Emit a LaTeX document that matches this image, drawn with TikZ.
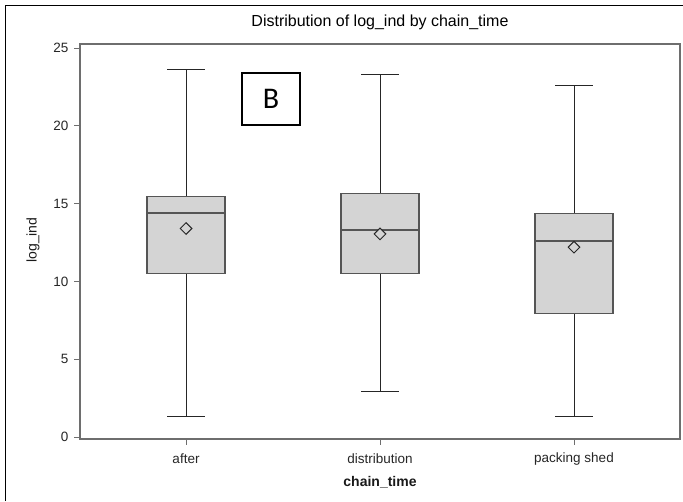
\documentclass[tikz,border=0pt]{standalone}
\usepackage{fontspec}
\setmainfont{Liberation Sans}
\newfontfamily\calib{Carlito}
\usetikzlibrary{shapes.geometric}
\definecolor{boxgray}{RGB}{212,212,212}
\definecolor{boxedge}{RGB}{85,85,85}
\definecolor{framegray}{RGB}{110,110,110}
\newcommand\bxp[8]{%
  \begin{scope}[shift={(0,437)}, y=15.56pt]
    \coordinate (#1lo) at (#2,#3);
    \coordinate (#1hi) at (#2,#7);
    \coordinate (#1bot) at (#2,#4);
    \coordinate (#1top) at (#2,#6);
    \draw[whisk] (#1lo) -- (#1bot);
    \draw[whisk] (#1top) -- (#1hi);
    \draw[whisk] ([xshift=-19pt]#1lo) -- ([xshift=19pt]#1lo);
    \draw[whisk] ([xshift=-19pt]#1hi) -- ([xshift=19pt]#1hi);
    \draw[boxfill] ([xshift=-39pt]#1bot) rectangle ([xshift=39pt]#1top);
    \draw[boxedge, line width=1.2pt] (#2-39,#5) -- (#2+39,#5);
    \node[meanmark] (#1mean) at (#2,#8) {};
  \end{scope}}
\begin{document}
\begin{tikzpicture}[x=1pt,y=-1pt,
  boxfill/.style={fill=boxgray, draw=boxedge, line width=1.2pt},
  whisk/.style={draw=black!85, line width=0.9pt},
  meanmark/.style={diamond, draw=black!85, fill=boxgray, line width=1pt, minimum width=12pt, minimum height=12pt, inner sep=0pt},
  ticklab/.style={font=\fontsize{13.5}{16}\selectfont, text=black!85},
  axlab/.style={font=\fontsize{14}{17}\selectfont, text=black!90},
]
\useasboundingbox (0,0) rectangle (683,501);
\draw[black, line width=1pt] (5,501) -- (5,5) -- (683,5);
\node[font=\fontsize{16}{19}\selectfont] (title) at (380,22) {Distribution of log\_ind by chain\_time};
% frame
\draw[framegray, line width=1.5pt] (80,44) rectangle (680,439);
% y ticks
\foreach \v in {0,5,...,25} {
  \draw[framegray, line width=1pt] (74,437-15.56*\v) -- (80,437-15.56*\v);
  \node[ticklab, anchor=east] (yt\v) at (72,437-15.56*\v) {\v};
}
\node[axlab, rotate=90] (ylab) at (33,240) {log\_ind};
% x ticks
\foreach \xx/\lab/\nm in {186/after/a,380/distribution/d,574/packing shed/p} {
  \draw[framegray, line width=1pt] (\xx,439) -- (\xx,445);
  \node[ticklab] (xt\nm) at (\xx,459) {\lab};
}
\node[axlab, font=\fontsize{14}{17}\selectfont\bfseries] (xlab) at (380,482) {chain\_time};
% boxes
\bxp{a}{186}{1.3}{10.5}{14.4}{15.45}{23.6}{13.4}
\bxp{d}{380}{2.9}{10.5}{13.3}{15.65}{23.3}{13.05}
\bxp{p}{574}{1.3}{7.95}{12.6}{14.35}{22.6}{12.2}
% label B
\node[draw=black, line width=1.5pt, minimum width=58pt, minimum height=52pt, font=\calib\fontsize{30}{34}\selectfont] (B) at (271,99) {B};
\end{tikzpicture}
\end{document}
